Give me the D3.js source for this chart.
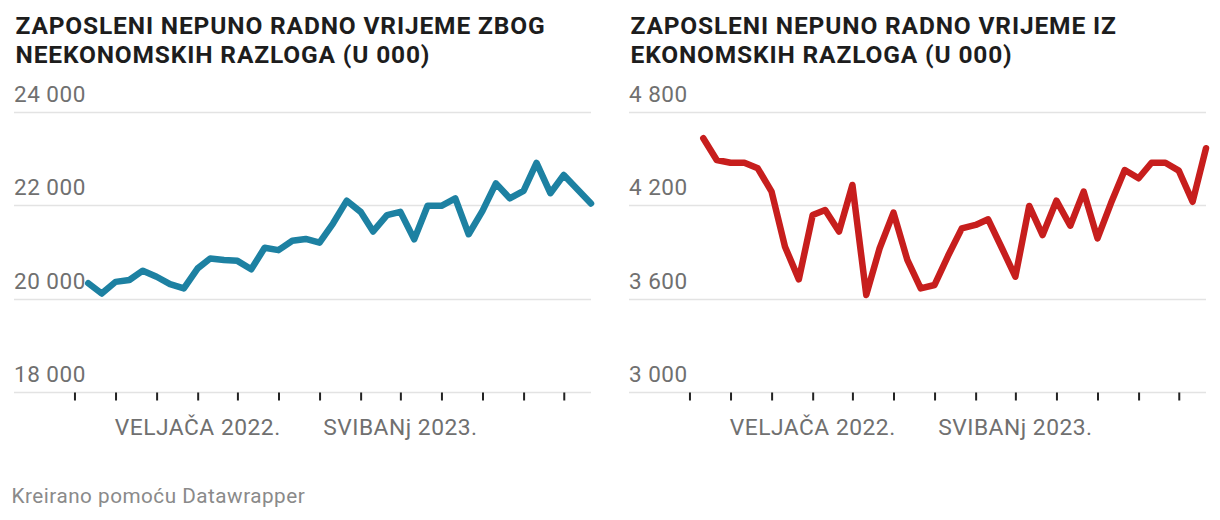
<!DOCTYPE html>
<html>
<head>
<meta charset="utf-8">
<script src="https://cdn.jsdelivr.net/npm/d3@7"></script>
<style>
  html, body { margin: 0; padding: 0; background: #fff; }
  svg { display: block; font-family: Roboto, "Noto Sans", sans-serif; }
</style>
</head>
<body>
<svg id="chart" width="1220" height="520"></svg>
<script>
// ---- DATA ----
const months = [
  "2021-06","2021-07","2021-08","2021-09","2021-10","2021-11","2021-12",
  "2022-01","2022-02","2022-03","2022-04","2022-05","2022-06","2022-07","2022-08","2022-09","2022-10","2022-11","2022-12",
  "2023-01","2023-02","2023-03","2023-04","2023-05","2023-06","2023-07","2023-08","2023-09","2023-10","2023-11","2023-12",
  "2024-01","2024-02","2024-03","2024-04","2024-05","2024-06","2024-07"
];
const nonEconomic = [
  20330, 20110, 20360, 20400, 20600, 20470, 20310, 20220, 20650, 20860,
  20830, 20810, 20630, 21090, 21040, 21240, 21280, 21200, 21610, 22100,
  21860, 21440, 21790, 21860, 21270, 21990, 21990, 22150, 21380, 21880,
  22470, 22150, 22310, 22910, 22260, 22650, 22340, 22040
];
const economic = [
  4631, 4491, 4474, 4474, 4438, 4288, 3934, 3724, 4138, 4170,
  4031, 4331, 3624, 3924, 4153, 3849, 3666, 3688, 3874, 4052,
  4074, 4110, 3924, 3741, 4196, 4009, 4230, 4069, 4288, 3988,
  4213, 4427, 4374, 4474, 4474, 4423, 4223, 4567
];
const yTicksLeft = [18000, 20000, 22000, 24000];
const yTicksRight = [3000, 3600, 4200, 4800];
const xTickMonths = ["2021-05","2021-08","2021-11","2022-02","2022-05","2022-08","2022-11",
                     "2023-02","2023-05","2023-08","2023-11","2024-02","2024-05"];
const xLabelMonths = ["2022-02", "2023-05"];
const xLabelTexts = ["VELJAČA 2022.", "SVIBANj 2023."];
const titlesLeft = ["ZAPOSLENI NEPUNO RADNO VRIJEME ZBOG", "NEEKONOMSKIH RAZLOGA (U 000)"];
const titlesRight = ["ZAPOSLENI NEPUNO RADNO VRIJEME IZ", "EKONOMSKIH RAZLOGA (U 000)"];
const footer = "Kreirano pomoću Datawrapper";

// ---- DRAW ----
const parse = d3.timeParse("%Y-%m");
const svg = d3.select("#chart");
const fmt = v => d3.format(",")(v).replace(/,/g, " ");

function panel(x0, titles, values, yTicks, color) {
  const g = svg.append("g");
  const gridLeft = x0, gridRight = x0 + 577;
  const x = d3.scaleTime()
    .domain([parse(months[0]), parse(months[months.length - 1])])
    .range([x0 + 74.3, gridRight]);
  const y = d3.scaleLinear()
    .domain([yTicks[0], yTicks[yTicks.length - 1]])
    .range([392, 112]);

  // titles
  g.selectAll("text.title").data(titles).join("text")
    .attr("class", "title")
    .attr("x", x0 + 1.5)
    .attr("y", (d, i) => 34 + i * 28.5)
    .attr("font-size", 24.5)
    .attr("letter-spacing", 0.85)
    .attr("font-weight", 700)
    .attr("fill", "#1d1d1d")
    .text(d => d);

  // grid lines
  g.selectAll("line.grid").data(yTicks).join("line")
    .attr("class", "grid")
    .attr("x1", gridLeft).attr("x2", gridRight)
    .attr("y1", d => Math.round(y(d)) + 0.5).attr("y2", d => Math.round(y(d)) + 0.5)
    .attr("stroke", "#e3e3e3").attr("stroke-width", 1.5);

  // y labels
  g.selectAll("text.ylab").data(yTicks).join("text")
    .attr("class", "ylab")
    .attr("x", gridLeft)
    .attr("y", d => y(d) - 10)
    .attr("font-size", 22.5)
    .attr("letter-spacing", 0.5)
    .attr("fill", "#707070")
    .text(d => fmt(d));

  // x ticks
  const xAxis = d3.axisBottom(x)
    .tickValues(xTickMonths.map(parse))
    .tickSize(8)
    .tickFormat("");
  const ax = g.append("g").attr("transform", "translate(0,392.5)").call(xAxis);
  ax.select(".domain").remove();
  ax.selectAll(".tick line").attr("stroke", "#222").attr("stroke-width", 2);

  // x labels
  g.selectAll("text.xlab").data(xLabelMonths).join("text")
    .attr("class", "xlab")
    .attr("x", d => x(parse(d)))
    .attr("y", 435)
    .attr("text-anchor", "middle")
    .attr("font-size", 22.8)
    .attr("letter-spacing", 0.5)
    .attr("fill", "#707070")
    .text((d, i) => xLabelTexts[i]);

  // line
  const line = d3.line()
    .x((d, i) => x(parse(months[i])))
    .y(d => y(d));
  g.append("path")
    .datum(values)
    .attr("d", line)
    .attr("fill", "none")
    .attr("stroke", color)
    .attr("stroke-width", 6.5)
    .attr("stroke-linejoin", "round")
    .attr("stroke-linecap", "round");
}

panel(14, titlesLeft, nonEconomic, yTicksLeft, "#1d81a2");
panel(629, titlesRight, economic, yTicksRight, "#c71e1d");

svg.append("text")
  .attr("x", 11.5)
  .attr("y", 503)
  .attr("font-size", 20.7)
  .attr("letter-spacing", 0.5)
  .attr("fill", "#8a8a8a")
  .text(footer);
</script>
</body>
</html>
